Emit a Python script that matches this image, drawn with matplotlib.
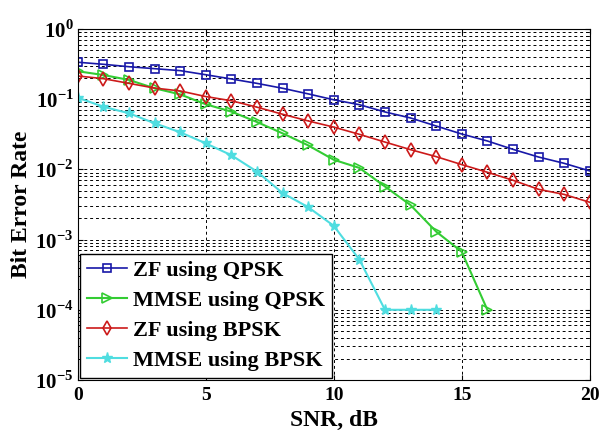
import numpy as np
import matplotlib
matplotlib.use('Agg')
import matplotlib.pyplot as plt
from matplotlib.ticker import FixedLocator, LogLocator, NullFormatter, FuncFormatter

plt.rcParams['font.family'] = 'Liberation Serif'
plt.rcParams['font.weight'] = 'bold'
plt.rcParams['mathtext.fontset'] = 'custom'
plt.rcParams['mathtext.rm'] = 'Liberation Serif:bold'
plt.rcParams['mathtext.bf'] = 'Liberation Serif:bold'

# SNR in dB
snr = list(range(0, 21))
snr_mmse_qpsk = list(range(0, 17))
snr_mmse_bpsk = list(range(0, 15))

# Bit error rates
zf_qpsk = [0.336, 0.314, 0.29, 0.272, 0.255, 0.223, 0.194, 0.168, 0.143, 0.119,
           0.098, 0.0835, 0.0658, 0.054, 0.0415, 0.0319, 0.0254, 0.0193, 0.015,
           0.0122, 0.0095]
mmse_qpsk = [0.25, 0.221, 0.188, 0.143, 0.117, 0.0846, 0.0665, 0.0473, 0.0326,
             0.022, 0.0137, 0.0105, 0.0057, 0.0031, 0.0013, 0.00067, 0.0001]
zf_bpsk = [0.214, 0.196, 0.168, 0.144, 0.131, 0.109, 0.095, 0.077, 0.061, 0.049,
           0.040, 0.0316, 0.0245, 0.0191, 0.0152, 0.0117, 0.0091, 0.0070, 0.0052,
           0.0044, 0.0034]
mmse_bpsk = [0.105, 0.078, 0.063, 0.0454, 0.0338, 0.0235, 0.0159, 0.0093, 0.0046,
             0.0029, 0.00157, 0.00052, 0.0001, 0.0001, 0.0001]

fig = plt.figure(figsize=(6.03, 4.3), dpi=100)
ax = fig.add_axes([0.129, 0.1163, 0.849, 0.8163])

ax.semilogy(snr, zf_qpsk, color='#1818a8', marker='s', mfc='none', ms=6,
            mew=1.2, lw=1.2, label='ZF using QPSK')
ax.semilogy(snr_mmse_qpsk, mmse_qpsk, color='#33cc33', marker='>', mfc='none',
            ms=7, mew=1.2, lw=1.5, label='MMSE using QPSK')
ax.semilogy(snr, zf_bpsk, color='#cc1a1a', marker='d', mfc='none', ms=7,
            mew=1.2, lw=1.2, label='ZF using BPSK')
ax.semilogy(snr_mmse_bpsk, mmse_bpsk, color='#4fdde0', marker='*', ms=8,
            lw=1.5, label='MMSE using BPSK')

ax.set_xlim(0, 20)
ax.set_ylim(1e-5, 1)
ax.xaxis.set_major_locator(FixedLocator([0, 5, 10, 15, 20]))
ax.yaxis.set_major_locator(LogLocator(base=10, numticks=10))
ax.yaxis.set_minor_locator(LogLocator(base=10, subs=np.arange(2, 10), numticks=20))
ax.yaxis.set_minor_formatter(NullFormatter())
ax.yaxis.set_major_formatter(FuncFormatter(lambda v, p: r'$10^{%d}$' % round(np.log10(v))))

ax.grid(True, which='major', color='black', linestyle=(0, (3, 3)), lw=0.7)
ax.grid(True, which='minor', axis='y', color='black', linestyle=(0, (3, 3)), lw=0.7)
ax.tick_params(which='both', direction='in', top=True, right=True)
ax.tick_params(axis='x', labelsize=14, pad=5)
ax.tick_params(axis='y', labelsize=15, pad=3)

ax.set_xlabel('SNR, dB', fontsize=17, fontweight='bold', labelpad=4)
ax.set_ylabel('Bit Error Rate', fontsize=17, fontweight='bold', labelpad=2)

leg = ax.legend(loc='lower left', bbox_to_anchor=(0.004, 0.006), borderaxespad=0,
                fancybox=False, edgecolor='black', framealpha=1,
                prop={'family': 'Liberation Serif', 'weight': 'bold', 'size': 16},
                handlelength=1.8, handletextpad=0.3, labelspacing=0.43,
                borderpad=0.3)
leg.get_frame().set_linewidth(1.0)

fig.savefig('out.png', dpi=100)
